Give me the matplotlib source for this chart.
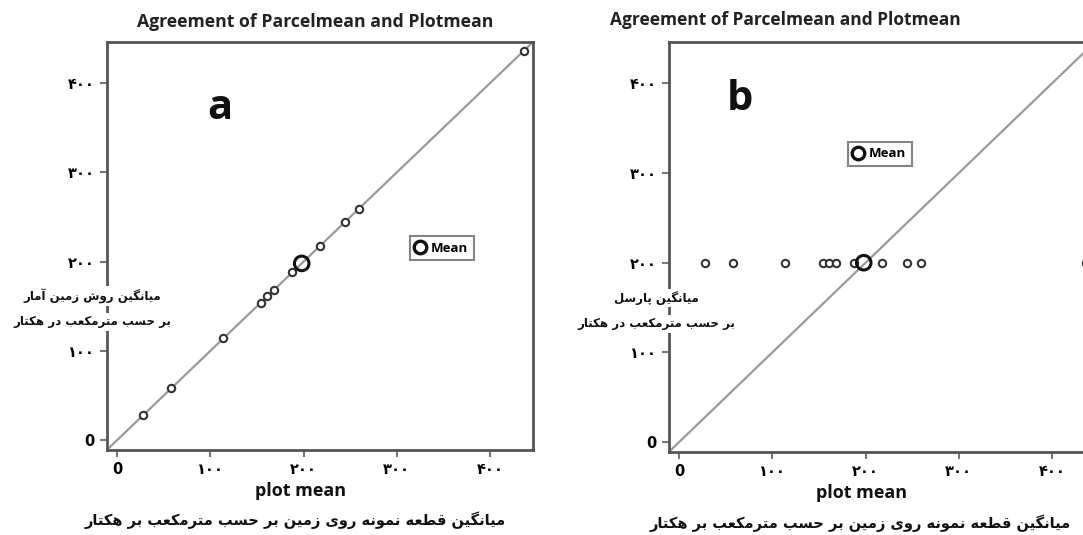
import matplotlib
matplotlib.use("Agg")
import matplotlib.pyplot as plt
from matplotlib.lines import Line2D

# --- data ---
plot_mean = [28, 58, 114, 154, 161, 168, 188, 218, 244, 259, 436]
geo_mean = [28, 58, 114, 154, 161, 168, 188, 218, 244, 259, 436]
parcel_mean = [200, 200, 200, 200, 200, 200, 200, 200, 200, 200, 200]
mean_plot = 198
mean_geo = 198
mean_parcel = 200

ticks = [0, 100, 200, 300, 400]
tick_labels = ["0", "\u06F1\u06F0\u06F0", "\u06F2\u06F0\u06F0", "\u06F3\u06F0\u06F0", "\u06F4\u06F0\u06F0"]

TITLE = "Agreement of Parcelmean and Plotmean"
YLABEL_A = ["میانگین روش زمین آمار", "بر حسب مترمکعب در هکتار"]
YLABEL_B = ["میانگین پارسل", "بر حسب مترمکعب در هکتار"]
XLABEL_FA = "میانگین قطعه نمونه روی زمین بر حسب مترمکعب بر هکتار"

# Arabic/Persian presentation forms: isolated, final, initial, medial
FORMS = {
    "\u0627": ("\uFE8D", "\uFE8E", None, None),
    "\u0622": ("\uFE81", "\uFE82", None, None),
    "\u0628": ("\uFE8F", "\uFE90", "\uFE91", "\uFE92"),
    "\u067E": ("\uFB56", "\uFB57", "\uFB58", "\uFB59"),
    "\u062A": ("\uFE95", "\uFE96", "\uFE97", "\uFE98"),
    "\u062D": ("\uFEA1", "\uFEA2", "\uFEA3", "\uFEA4"),
    "\u062F": ("\uFEA9", "\uFEAA", None, None),
    "\u0631": ("\uFEAD", "\uFEAE", None, None),
    "\u0632": ("\uFEAF", "\uFEB0", None, None),
    "\u0633": ("\uFEB1", "\uFEB2", "\uFEB3", "\uFEB4"),
    "\u0634": ("\uFEB5", "\uFEB6", "\uFEB7", "\uFEB8"),
    "\u0637": ("\uFEC1", "\uFEC2", "\uFEC3", "\uFEC4"),
    "\u0639": ("\uFEC9", "\uFECA", "\uFECB", "\uFECC"),
    "\u0642": ("\uFED5", "\uFED6", "\uFED7", "\uFED8"),
    "\u06A9": ("\uFB8E", "\uFB8F", "\uFB90", "\uFB91"),
    "\u06AF": ("\uFB92", "\uFB93", "\uFB94", "\uFB95"),
    "\u0644": ("\uFEDD", "\uFEDE", "\uFEDF", "\uFEE0"),
    "\u0645": ("\uFEE1", "\uFEE2", "\uFEE3", "\uFEE4"),
    "\u0646": ("\uFEE5", "\uFEE6", "\uFEE7", "\uFEE8"),
    "\u0647": ("\uFEE9", "\uFEEA", "\uFEEB", "\uFEEC"),
    "\u0648": ("\uFEED", "\uFEEE", None, None),
    "\u06CC": ("\uFBFC", "\uFBFD", "\uFBFE", "\uFBFF"),
}


def shape(text):
    """Join Persian letters and reverse for display (no bidi lib here)."""
    def dual(c):
        return c in FORMS and FORMS[c][2] is not None
    out = []
    for i, c in enumerate(text):
        if c not in FORMS:
            out.append(c)
            continue
        prev = text[i - 1] if i > 0 else ""
        nxt = text[i + 1] if i + 1 < len(text) else ""
        jp = dual(prev)
        jn = dual(c) and nxt in FORMS
        iso, fin, ini, med = FORMS[c]
        if jp and jn:
            out.append(med)
        elif jp:
            out.append(fin)
        elif jn:
            out.append(ini)
        else:
            out.append(iso)
    return "".join(reversed(out))


LINE_C = "#9a9a9a"
SPINE_C = "#555555"
PT_C = "#333333"
FA_FONT = ["DejaVu Sans"]
EN_FONT = ["Open Sans", "DejaVu Sans"]

W, H = 1083, 535
fig = plt.figure(figsize=(W / 100, H / 100), dpi=100)


def px_axes(left, top, right, bottom):
    return fig.add_axes([left / W, 1 - bottom / H, (right - left) / W, (bottom - top) / H])


def style(ax):
    ax.set_xlim(-10.8, 446)
    ax.set_ylim(-11, 446)
    ax.set_xticks(ticks)
    ax.set_yticks(ticks)
    ax.set_xticklabels(tick_labels, family=FA_FONT, fontweight="bold", fontsize=10.5)
    ax.set_yticklabels(tick_labels, family=FA_FONT, fontweight="bold", fontsize=10.5)
    for s in ax.spines.values():
        s.set_color(SPINE_C)
        s.set_linewidth(2)
    ax.tick_params(direction="out", length=5, width=1.5, color="#777777", pad=4)


def draw_panel(ax, xs, ys, mx, my, letter, letter_xy, leg_xy):
    style(ax)
    ax.plot([-20, 460], [-20, 460], color=LINE_C, lw=1.6, zorder=1)
    ax.scatter(xs, ys, s=28, facecolors="white", edgecolors=PT_C, linewidths=1.5, zorder=3, clip_on=False)
    ax.scatter([mx], [my], s=110, facecolors="none", edgecolors="#111111", linewidths=2.2, zorder=4)
    ax.text(letter_xy[0], letter_xy[1], letter, transform=ax.transAxes, ha="center", va="center",
            fontsize=30, fontweight="bold", family=EN_FONT, color="#111111")
    h = Line2D([], [], ls="none", marker="o", ms=9, mfc="none", mec="#111111", mew=2.4)
    leg = ax.legend([h], ["Mean"], loc="center", bbox_to_anchor=leg_xy, frameon=True,
                    prop={"family": EN_FONT, "weight": "bold", "size": 9.5},
                    handlelength=0.7, handletextpad=0.5, borderpad=0.4, fancybox=False,
                    borderaxespad=0)
    leg.get_frame().set_edgecolor("#666666")
    leg.get_frame().set_linewidth(1.5)


ax_a = px_axes(107, 42, 533, 450)
draw_panel(ax_a, plot_mean, geo_mean, mean_plot, mean_geo, "a", (0.265, 0.838), (0.786, 0.495))

ax_b = px_axes(669, 42, 1095, 452)
draw_panel(ax_b, plot_mean, parcel_mean, mean_plot, mean_parcel, "b", (0.167, 0.859), (0.495, 0.727))

# titles
fig.text(315 / W, 1 - 22 / H, TITLE, ha="center", va="center", fontsize=12.7, fontweight="bold",
         family=EN_FONT, color="#222222")
fig.text(785 / W, 1 - 20 / H, TITLE, ha="center", va="center", fontsize=12.5, fontweight="bold",
         family=EN_FONT, color="#222222")

# x labels
fig.text(301 / W, 1 - 491 / H, "plot mean", ha="center", va="center", fontsize=13, fontweight="bold",
         family=EN_FONT, color="#111111")
fig.text(862 / W, 1 - 493 / H, "plot mean", ha="center", va="center", fontsize=13, fontweight="bold",
         family=EN_FONT, color="#111111")
fig.text(295 / W, 1 - 520 / H, shape(XLABEL_FA), ha="center", va="center", fontsize=10.5,
         fontweight="bold", family=FA_FONT, color="#111111")
fig.text(860 / W, 1 - 523 / H, shape(XLABEL_FA), ha="center", va="center", fontsize=10.5,
         fontweight="bold", family=FA_FONT, color="#111111")

# y labels, drawn over the left spine
for lines, cx, ys in [(YLABEL_A, 92, (296, 322)), (YLABEL_B, 656, (298, 324))]:
    for line, cy in zip(lines, ys):
        fig.text(cx / W, 1 - cy / H, shape(line), ha="center", va="center", fontsize=8.5,
                 fontweight="bold", family=FA_FONT, color="#111111", zorder=10,
                 bbox=dict(facecolor="white", edgecolor="none", pad=1.5))

fig.savefig("out.png", dpi=100)
